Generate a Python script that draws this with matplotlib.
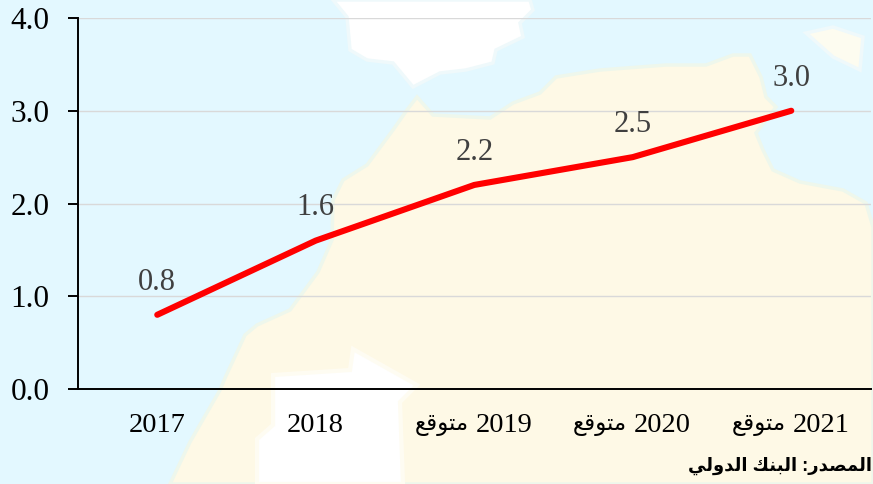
import matplotlib
matplotlib.use('Agg')
import matplotlib.pyplot as plt
from matplotlib.patches import Polygon

# arabic words in presentation forms, visual order (matplotlib does no shaping)
forecast = '\ufeca\ufed7\ufeee\ufe98\ufee3'
source = '\ufef2\ufedf\ufeed\ufeaa\ufedf\ufe8d \ufeda\ufee8\ufe92\ufedf\ufe8d :\ufead\ufeaa\ufebc\ufee4\ufedf\ufe8d'

years = ['2017', '2018', '2019', '2020', '2021']
is_forecast = [False, False, True, True, True]
values = [0.8, 1.6, 2.2, 2.5, 3.0]
yticks = [0.0, 1.0, 2.0, 3.0, 4.0]

# map backdrop outlines, in image pixels
land = [(170, 484), (190, 442), (220, 390), (225, 378), (245, 335), (257, 325), (290, 310), (318, 272),
        (332, 240), (333, 200), (343, 180), (367, 165), (393, 130), (407, 110), (417, 97), (433, 115),
        (490, 118), (513, 103), (540, 93), (556, 77), (600, 70), (666, 65), (706, 65), (733, 55), (750, 55),
        (761, 77), (766, 97), (776, 107), (756, 133), (763, 150), (773, 170), (800, 182), (843, 190),
        (866, 203), (873, 227), (873, 484)]
spain = [(333, 0), (347, 17), (350, 50), (367, 60), (393, 63), (413, 87), (440, 73), (466, 70), (493, 63),
         (496, 50), (523, 37), (520, 23), (533, 10), (530, 0)]
island = [(806, 33), (833, 27), (863, 37), (860, 70), (833, 57)]
desert = [(353, 349), (417, 385), (400, 402), (403, 484), (257, 484), (257, 439), (273, 425), (273, 375), (350, 370)]

plt.rcParams['font.family'] = ['Liberation Serif', 'DejaVu Sans']

fig = plt.figure(figsize=(8.73, 4.84), dpi=100)

bg = fig.add_axes([0, 0, 1, 1], zorder=0)
bg.set_xlim(0, 873)
bg.set_ylim(484, 0)
bg.axis('off')
bg.add_patch(Polygon([(0, 0), (873, 0), (873, 484), (0, 484)], fc='#e3f8ff', ec='none'))
bg.add_patch(Polygon(land, fc='#fef9e6', ec='#eef7ec', lw=2.5))
bg.add_patch(Polygon(spain, fc='#ffffff', ec='#eff9fb', lw=2.5))
bg.add_patch(Polygon(island, fc='#fdfcf0', ec='#eff9fb', lw=2.5))
bg.add_patch(Polygon(desert, fc='#ffffff', ec='#fefcf2', lw=3))

ax = fig.add_axes([78 / 873, 1 - 389 / 484, (870.5 - 78) / 873, (389 - 18) / 484], zorder=1)
ax.patch.set_alpha(0)

x = list(range(len(years)))
ax.plot(x, values, color='#ff0000', lw=4.4, solid_capstyle='round', solid_joinstyle='round', zorder=3)

for i, v in enumerate(values):
    ax.annotate(f'{v:.1f}', (i, v), xytext=(0, 23.5), textcoords='offset points', ha='center', va='center',
                fontsize=22, color='#404040', zorder=4)

ax.set_xlim(-0.5, 4.5)
ax.set_ylim(0, 4)
ax.set_yticks(yticks)
ax.set_yticklabels([f'{t:.1f}' for t in yticks], fontsize=22.5)
ax.set_xticks(x)
ax.set_xticklabels([])
ax.grid(axis='y', color='#d9d9d9', lw=1)
ax.set_axisbelow(True)
ax.tick_params(axis='x', length=0)
ax.tick_params(axis='y', length=7.2, width=1.4, pad=13.5)
for s in ['top', 'right']:
    ax.spines[s].set_visible(False)
for s in ['left', 'bottom']:
    ax.spines[s].set_linewidth(1.4)

# category labels: year in serif, forecast word smaller beside it
trans = ax.get_xaxis_transform()
for i, year in enumerate(years):
    if is_forecast[i]:
        ax.annotate(year, (i, 0), xycoords=trans, xytext=(21.5, -26.5), textcoords='offset points',
                    ha='center', va='center', fontsize=20.5, annotation_clip=False)
        ax.annotate(forecast, (i, 0), xycoords=trans, xytext=(-23.5, -26.5), textcoords='offset points',
                    ha='center', va='center', fontsize=16.5, annotation_clip=False)
    else:
        ax.annotate(year, (i, 0), xycoords=trans, xytext=(0, -26.5), textcoords='offset points',
                    ha='center', va='center', fontsize=20.5, annotation_clip=False)

fig.text(872 / 873, 1 - 466 / 484, source, ha='right', va='center', fontsize=13, fontweight='bold',
         family=['Liberation Sans', 'DejaVu Sans'], color='black')

fig.savefig('out.png', dpi=100)
